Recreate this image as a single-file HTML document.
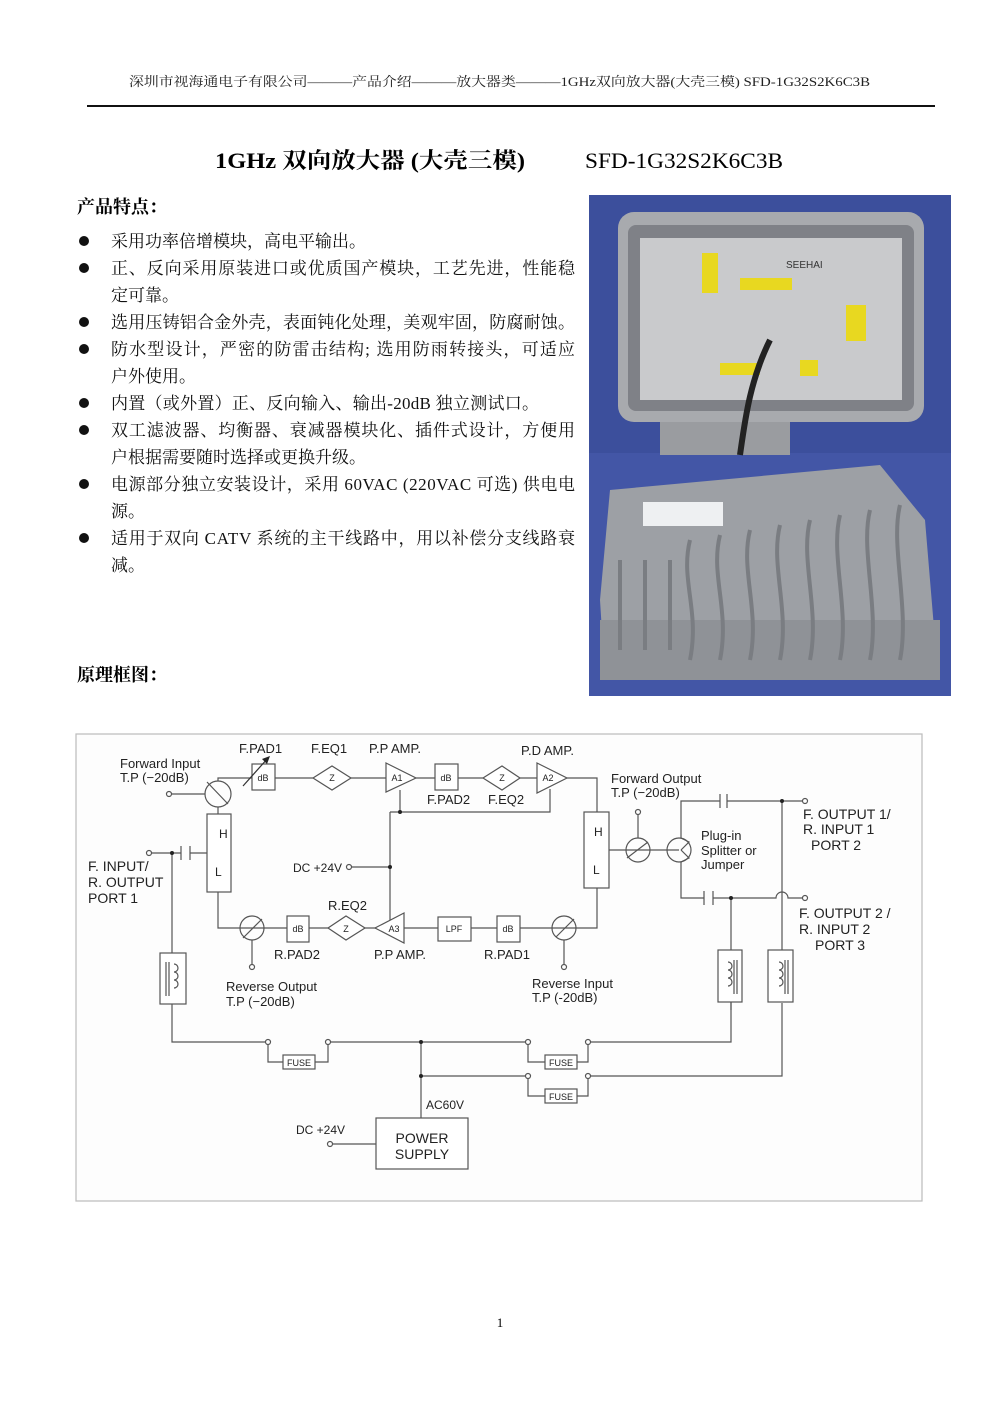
<!DOCTYPE html>
<html><head><meta charset="utf-8"><style>
html,body{margin:0;padding:0;background:#fff}
svg{display:block}
.s{font-family:"Liberation Serif","Noto Serif CJK SC","Noto Sans CJK SC",serif}
.d{font-family:"Liberation Sans",sans-serif;font-size:13px;fill:#222}
.w{stroke:#555;stroke-width:1.2;fill:none}
.b{stroke:#555;stroke-width:1.2;fill:#fff}
.c{stroke:#555;stroke-width:1.2;fill:none}
.sm{font-family:"Liberation Sans",sans-serif;font-size:9px;fill:#222}
</style></head><body>
<svg width="1000" height="1414" viewBox="0 0 1000 1414" xmlns="http://www.w3.org/2000/svg">
<rect width="1000" height="1414" fill="#fff"/>
<text class="s" x="129" y="86" font-size="13" textLength="741" lengthAdjust="spacingAndGlyphs" fill="#222">深圳市视海通电子有限公司———产品介绍———放大器类———1GHz双向放大器(大壳三模) SFD-1G32S2K6C3B</text>
<rect x="87" y="105" width="848" height="2" fill="#111"/>
<text class="s" x="215" y="168" font-size="22" font-weight="bold" textLength="310" lengthAdjust="spacingAndGlyphs">1GHz  双向放大器  (大壳三模)</text>
<text class="s" x="585" y="168" font-size="22" textLength="198" lengthAdjust="spacingAndGlyphs">SFD-1G32S2K6C3B</text>
<text class="s" x="77" y="213" font-size="18" font-weight="bold">产品特点：</text>
<g class="s" font-size="17" fill="#111">
<circle cx="84" cy="241" r="5"/><text x="111" y="247">采用功率倍增模块，高电平输出。</text>
<circle cx="84" cy="268" r="5"/><text x="111" y="274" textLength="464">正、反向采用原装进口或优质国产模块，工艺先进，性能稳</text>
<text x="111" y="301">定可靠。</text>
<circle cx="84" cy="322" r="5"/><text x="111" y="328" textLength="464">选用压铸铝合金外壳，表面钝化处理，美观牢固，防腐耐蚀。</text>
<circle cx="84" cy="349" r="5"/><text x="111" y="355" textLength="464">防水型设计，严密的防雷击结构; 选用防雨转接头，可适应</text>
<text x="111" y="382">户外使用。</text>
<circle cx="84" cy="403" r="5"/><text x="111" y="409" textLength="428">内置（或外置）正、反向输入、输出-20dB 独立测试口。</text>
<circle cx="84" cy="430" r="5"/><text x="111" y="436" textLength="464">双工滤波器、均衡器、衰减器模块化、插件式设计，方便用</text>
<text x="111" y="463">户根据需要随时选择或更换升级。</text>
<circle cx="84" cy="484" r="5"/><text x="111" y="490" textLength="464">电源部分独立安装设计，采用 60VAC (220VAC 可选) 供电电</text>
<text x="111" y="517">源。</text>
<circle cx="84" cy="538" r="5"/><text x="111" y="544" textLength="464">适用于双向 CATV 系统的主干线路中，用以补偿分支线路衰</text>
<text x="111" y="571">减。</text>
</g>
<text class="s" x="77" y="681" font-size="18" font-weight="bold">原理框图：</text>

<!-- photo -->
<rect x="589" y="195" width="362" height="501" fill="#4356a6"/>
<rect x="589" y="195" width="362" height="258" fill="#3c4f9c"/>
<rect x="660" y="410" width="130" height="45" fill="#9a9ca0"/>
<rect x="618" y="212" width="306" height="210" rx="16" fill="#a8aaae"/>
<rect x="628" y="225" width="286" height="186" rx="8" fill="#7f8187"/>
<rect x="640" y="238" width="262" height="162" fill="#c9cacc"/>
<rect x="702" y="253" width="16" height="40" fill="#e8d820"/>
<rect x="740" y="278" width="52" height="12" fill="#e8d820"/>
<rect x="720" y="363" width="40" height="12" fill="#e8d820"/>
<rect x="800" y="360" width="18" height="16" fill="#e8d820"/>
<rect x="846" y="305" width="20" height="36" fill="#e8d820"/>
<text x="786" y="268" font-family="Liberation Sans,sans-serif" font-size="10" fill="#333">SEEHAI</text>
<path d="M770 340 C 750 380 745 420 740 455" stroke="#222" stroke-width="6" fill="none"/>
<path d="M610 490 L880 465 L925 520 L935 640 L900 680 L605 680 L600 600 Z" fill="#9da0a5"/>
<rect x="600" y="620" width="340" height="60" fill="#8f9297"/>
<g stroke="#7a7d82" stroke-width="4" fill="none">
<path d="M690 540 C680 580 700 610 690 660"/><path d="M720 535 C710 575 730 610 720 660"/>
<path d="M750 530 C740 570 760 610 750 660"/><path d="M780 525 C770 565 790 610 780 660"/>
<path d="M810 520 C800 560 820 610 810 660"/><path d="M840 515 C830 555 850 610 840 660"/>
<path d="M870 510 C860 550 880 610 870 660"/><path d="M900 505 C890 545 910 610 900 660"/>
<path d="M620 560 L620 650"/><path d="M645 560 L645 650"/><path d="M670 560 L670 650"/>
</g>
<rect x="643" y="502" width="80" height="24" fill="#eef0f2"/>

<!-- diagram frame -->
<rect x="76" y="734" width="846" height="467" fill="#fdfdfd" stroke="#bbb" stroke-width="1.2"/>
<g class="w">
<path d="M218 781 V778 H252 M275 778 H313 M351 778 H386 M416 778 H435 M458 778 H483 M520 778 H537 M567 778 H597 V812"/>
<path d="M400 790 V812 M390 812 H550 V789 M390 812 V920"/>
<path d="M352 867 H390"/>
<path d="M218 807 V814 M218 892 V928 H287 M309 928 H328 M365 928 H377 M404 928 H438 M471 928 H497 M520 928 H597 V888"/>
<path d="M252 940 V964 M564 940 V964"/>
<path d="M152 853 H181 M190 853 H207 M181 846 V860 M190 846 V860"/>
<path d="M172 853 V953 M172 1004 V1042 H265 M331 1042 H525 M591 1042 H731 V1002"/>
<path d="M268 1045 V1062 H283 M315 1062 H328 V1045"/>
<path d="M528 1045 V1062 H545 M577 1062 H588 V1045"/>
<path d="M421 1076 H525 M591 1076 H782 V1003"/>
<path d="M528 1079 V1096 H545 M577 1096 H588 V1079"/>
<path d="M421 1042 V1118 M333 1144 H376"/>
<path d="M609 850 H679 M638 838 V815"/>
<path d="M681 850 L689 842 L681 838 V801 H720 M727 801 H802 M720 794 V808 M727 794 V808"/>
<path d="M681 850 L689 858 L681 862 V898 H704 M713 898 H776 A6 6 0 0 1 788 898 H802 M704 891 V905 M713 891 V905"/>
<path d="M731 898 V950 M782 801 V950 M731 1002 V1010"/>
<path d="M207 782 L228 804 M627 858 L648 842 M243 938 L262 919 M556 937 L574 919"/>
</g>
<g class="c">
<circle cx="218" cy="794" r="13"/>
<circle cx="252" cy="928" r="12"/>
<circle cx="564" cy="928" r="12"/>
<circle cx="638" cy="850" r="12"/>
<circle cx="679" cy="850" r="12"/>
</g>
<g class="b">
<rect x="252" y="764" width="23" height="26"/>
<path d="M313 778 L332 766 L351 778 L332 790 Z"/>
<path d="M386 763 L416 778 L386 792 Z"/>
<rect x="435" y="764" width="23" height="26"/>
<path d="M483 778 L502 766 L520 778 L502 790 Z"/>
<path d="M537 763 L567 778 L537 793 Z"/>
<rect x="207" y="814" width="24" height="78"/>
<rect x="584" y="812" width="25" height="76"/>
<rect x="287" y="916" width="22" height="26"/>
<path d="M328 928 L346 916 L365 928 L346 940 Z"/>
<path d="M404 913 L375 928 L404 943 Z"/>
<rect x="438" y="917" width="33" height="24"/>
<rect x="497" y="916" width="23" height="26"/>
<rect x="160" y="953" width="26" height="51"/>
<rect x="718" y="950" width="24" height="52"/>
<rect x="768" y="950" width="25" height="52"/>
<rect x="283" y="1055" width="32" height="14"/>
<rect x="545" y="1055" width="32" height="14"/>
<rect x="545" y="1089" width="32" height="14"/>
<rect x="376" y="1118" width="92" height="51"/>
<circle cx="169" cy="794" r="2.5"/><circle cx="149" cy="853" r="2.5"/>
<circle cx="349" cy="867" r="2.5"/><circle cx="252" cy="967" r="2.5"/><circle cx="564" cy="967" r="2.5"/>
<circle cx="638" cy="812" r="2.5"/><circle cx="805" cy="801" r="2.5"/><circle cx="805" cy="898" r="2.5"/>
<circle cx="268" cy="1042" r="2.5"/><circle cx="328" cy="1042" r="2.5"/>
<circle cx="528" cy="1042" r="2.5"/><circle cx="588" cy="1042" r="2.5"/>
<circle cx="528" cy="1076" r="2.5"/><circle cx="588" cy="1076" r="2.5"/>
<circle cx="330" cy="1144" r="2.5"/>
</g>
<path d="M172 794 H205" class="w"/>
<path d="M243 786 L268 758" stroke="#333" stroke-width="1.2"/><path d="M270 756 L262 759 L267 764 Z" fill="#222"/>
<g class="w">
<path d="M166 962 V996 M169 962 V996 M174 964 a4 4 0 0 1 0 8 a4 4 0 0 1 0 8 a4 4 0 0 1 0 8"/>
<path d="M737 960 V994 M734 960 V994 M728 962 a4 4 0 0 1 0 8 a4 4 0 0 1 0 8 a4 4 0 0 1 0 8"/>
<path d="M788 960 V994 M785 960 V994 M779 962 a4 4 0 0 1 0 8 a4 4 0 0 1 0 8 a4 4 0 0 1 0 8"/>
</g>
<g fill="#222">
<circle cx="172" cy="853" r="2"/><circle cx="400" cy="812" r="2"/><circle cx="390" cy="867" r="2"/>
<circle cx="782" cy="801" r="2"/><circle cx="731" cy="898" r="2"/>
<circle cx="421" cy="1042" r="2"/><circle cx="421" cy="1076" r="2"/>
</g>
<g class="sm" text-anchor="middle">
<text x="263" y="781">dB</text><text x="332" y="781">Z</text><text x="397" y="781">A1</text>
<text x="446" y="781">dB</text><text x="502" y="781">Z</text><text x="548" y="781">A2</text>
<text x="298" y="932">dB</text><text x="346" y="932">Z</text><text x="394" y="932">A3</text>
<text x="454" y="932">LPF</text><text x="508" y="932">dB</text>
<text x="299" y="1066">FUSE</text><text x="561" y="1066">FUSE</text><text x="561" y="1100">FUSE</text>
</g>
<g class="d">
<text x="219" y="838" font-size="12">H</text><text x="215" y="876" font-size="12">L</text>
<text x="594" y="836" font-size="12">H</text><text x="593" y="874" font-size="12">L</text>
<text x="239" y="753">F.PAD1</text><text x="311" y="753">F.EQ1</text><text x="369" y="753">P.P AMP.</text>
<text x="521" y="755">P.D AMP.</text>
<text x="120" y="768">Forward Input</text><text x="120" y="782">T.P (−20dB)</text>
<text x="427" y="804">F.PAD2</text><text x="488" y="804">F.EQ2</text>
<text x="611" y="783">Forward Output</text><text x="611" y="797">T.P (−20dB)</text>
<text x="803" y="819" font-size="14">F. OUTPUT 1/</text><text x="803" y="834" font-size="14">R. INPUT 1</text><text x="811" y="850" font-size="14">PORT 2</text>
<text x="701" y="840">Plug-in</text><text x="701" y="855">Splitter or</text><text x="701" y="869">Jumper</text>
<text x="88" y="871" font-size="14">F. INPUT/</text><text x="88" y="887" font-size="14">R. OUTPUT</text><text x="88" y="903" font-size="14">PORT 1</text>
<text x="293" y="872" font-size="12">DC +24V</text>
<text x="799" y="918" font-size="14">F. OUTPUT 2 /</text><text x="799" y="934" font-size="14">R.  INPUT 2</text><text x="815" y="950" font-size="14">PORT 3</text>
<text x="328" y="910">R.EQ2</text>
<text x="274" y="959">R.PAD2</text><text x="374" y="959">P.P AMP.</text><text x="484" y="959">R.PAD1</text>
<text x="226" y="991">Reverse Output</text><text x="226" y="1006">T.P (−20dB)</text>
<text x="532" y="988">Reverse Input</text><text x="532" y="1002">T.P (-20dB)</text>
<text x="426" y="1109" font-size="12">AC60V</text>
<text x="296" y="1134" font-size="12">DC +24V</text>
<text x="422" y="1143" text-anchor="middle" font-size="14">POWER</text>
<text x="422" y="1159" text-anchor="middle" font-size="14">SUPPLY</text>
</g>
<text class="s" x="500" y="1327" font-size="13" text-anchor="middle">1</text>
</svg>
</body></html>
